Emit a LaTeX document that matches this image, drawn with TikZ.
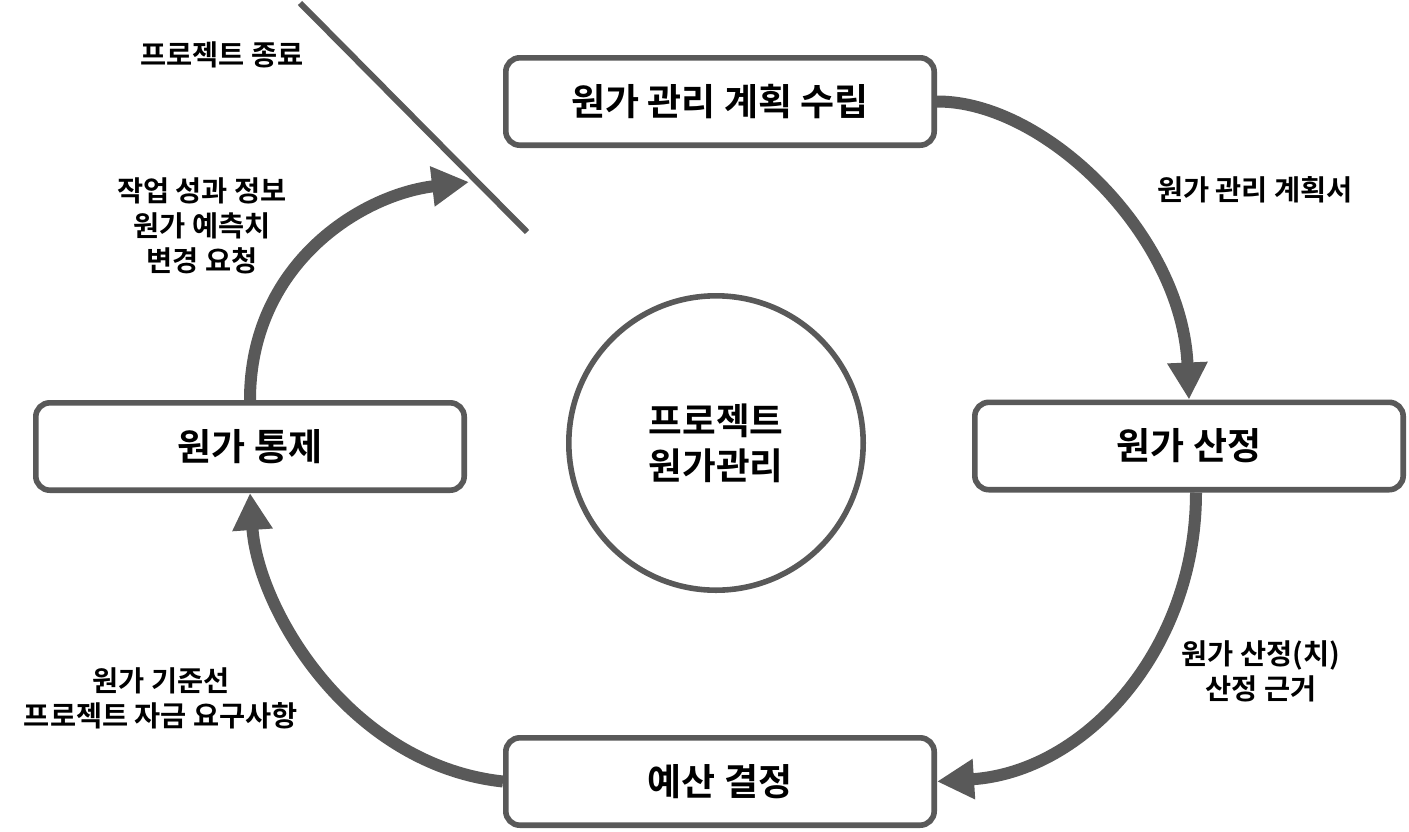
\documentclass[tikz,border=0pt]{standalone}
\usepackage{fontspec}
\setmainfont{Noto Sans CJK KR}[BoldFont={* Bold}]
\usetikzlibrary{arrows.meta}
\usetikzlibrary{positioning}
\definecolor{arrowgray}{HTML}{595959}

\begin{document}
\begin{tikzpicture}[x=0.5pt, y=-0.5pt,
    process/.style={rectangle, rounded corners=7pt, draw=arrowgray, line width=2.8pt, fill=white, minimum width=214.2pt, minimum height=43.7pt, font=\fontsize{18.5}{22}\selectfont\bfseries},
    flowlabel/.style={align=center, inner sep=0pt, font=\fontsize{14.2}{17.5}\selectfont\bfseries},
    flow/.style={line width=6pt, draw=arrowgray, -{Triangle[length=18.5pt, width=19pt]}}]
        % Fix the page to the size of the picture
        \useasboundingbox (0,0) rectangle (1409,831);

        % Draw the four process steps
        \node[process] (plan) at (720,101.5) {원가 관리 계획 수립};
        \node[process] (est) at (1189,446) {원가 산정};
        \node[process] (budget) at (720,781.5) {예산 결정};
        \node[process] (ctrl) at (250,446.5) {원가 통제};

        % Draw the central circle
        \node[circle, draw=arrowgray, line width=2.8pt, minimum size=147.2pt, align=center,
              font=\fontsize{18.3}{22.5}\selectfont\bfseries] (core) at (716,443) {프로젝트\\원가관리};

        % Draw the closing bar
        \coordinate (bartop) at (300,3);
        \coordinate (barend) at (527,232);
        \coordinate (stop) at (469,182);
        \draw[arrowgray, line width=3pt] (bartop) -- (barend);
        \node[flowlabel] (closing) at (222,55) {프로젝트 종료};

        % Draw the cycle of arrows
        \draw[flow] (plan.east) .. controls (1045,101) and (1182,235) .. (est.north);
        \draw[flow] ([xshift=3.5pt]est.south) .. controls (1196,650) and (1085,772) .. (budget.east);
        \draw[flow] (budget.west) .. controls (350,765) and (258,610) .. (ctrl.south);
        \draw[flow] (ctrl.north) .. controls (250,265) and (360,195) .. (stop);

        % Label the outputs of each step
        \node[flowlabel] (plandoc) at (1255,190) {원가 관리 계획서};
        \node[flowlabel] (estout) at (1261,671) {원가 산정(치)\\산정 근거};
        \node[flowlabel] (budgetout) at (161,698) {원가 기준선\\프로젝트 자금 요구사항};
        \node[flowlabel] (ctrlout) at (202,226) {작업 성과 정보\\원가 예측치\\변경 요청};
      \end{tikzpicture}
\end{document}
